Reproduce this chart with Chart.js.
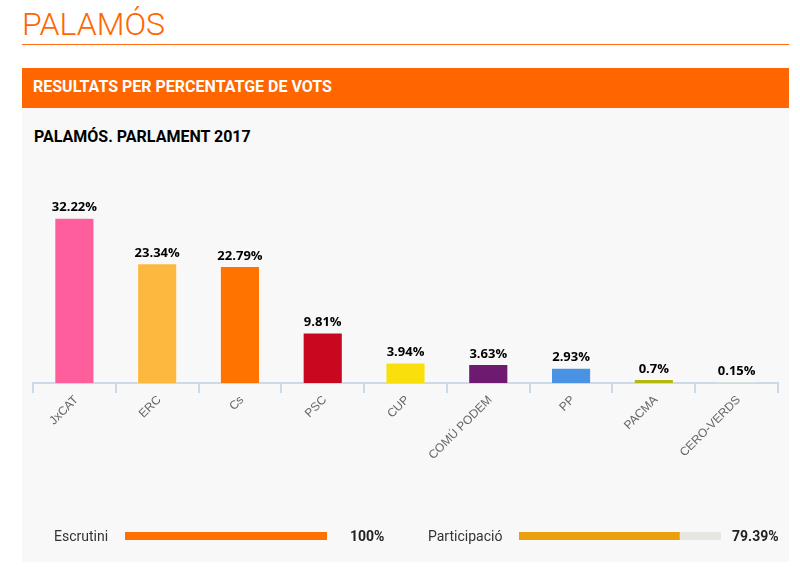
<!DOCTYPE html>
<html>
<head>
<meta charset="utf-8">
<title>PALAMÓS</title>
<script src="https://cdn.jsdelivr.net/npm/chart.js@4"></script>
<style>
  html, body { margin: 0; padding: 0; background: #fff; }
  body { width: 800px; height: 581px; position: relative; overflow: hidden; font-family: Roboto, sans-serif; }
  .abs { position: absolute; white-space: nowrap; }
  #town { left: 22px; top: 3px; font-size: 32px; font-weight: 300; color: #ff6600; line-height: 42px; }
  #rule { left: 22px; top: 43.5px; width: 767px; height: 1.5px; background: #ff6a13; }
  #band { left: 22px; top: 68px; width: 767px; height: 40px; background: #ff6600; }
  #bandText { left: 33px; top: 68px; line-height: 38px; font-size: 16px; font-weight: 700; color: #fff; }
  #panel { left: 22px; top: 108px; width: 767px; height: 454px; background: #f8f8f8; }
  #sub { left: 34px; top: 127px; line-height: 20px; font-size: 16px; font-weight: 700; color: #000; }
  #chart { left: 22px; top: 108px; }
  .lab { top: 526px; line-height: 20px; font-size: 14px; color: #333; }
  .val { top: 526px; line-height: 20px; font-size: 14px; font-weight: 700; color: #222; }
  .track { top: 532px; }
</style>
</head>
<body>
<div class="abs" id="town">PALAMÓS</div>
<div class="abs" id="rule"></div>
<div class="abs" id="band"></div>
<div class="abs" id="bandText">RESULTATS PER PERCENTATGE DE VOTS</div>
<div class="abs" id="panel"></div>
<div class="abs" id="sub">PALAMÓS. PARLAMENT 2017</div>
<canvas class="abs" id="chart" width="767" height="454"></canvas>

<div class="abs lab" style="left:54px">Escrutini</div>
<canvas class="abs track" id="bar1" width="202" height="8"></canvas>
<div class="abs val" style="left:350px">100%</div>

<div class="abs lab" style="left:428px">Participació</div>
<canvas class="abs track" id="bar2" width="202" height="8"></canvas>
<div class="abs val" style="left:732px">79.39%</div>

<script>
var parties = ['JxCAT', 'ERC', 'Cs', 'PSC', 'CUP', 'COMÚ PODEM', 'PP', 'PACMA', 'CERO-VERDS'];
var votes = [32.22, 23.34, 22.79, 9.81, 3.94, 3.63, 2.93, 0.7, 0.15];
var colors = ['#ff5e9c', '#fdb93f', '#ff7400', '#c8081f', '#f9e00c', '#6e1a70', '#4a92e3', '#b5b80f', '#d5dfe0'];
var escrutini = 100;
var participacio = 79.39;

// values above the bars
var valueLabels = {
  id: 'valueLabels',
  afterDatasetsDraw: function (chart) {
    var ctx = chart.ctx;
    ctx.save();
    ctx.font = 'bold 13px "Open Sans"';
    ctx.fillStyle = '#000';
    ctx.textAlign = 'center';
    ctx.textBaseline = 'bottom';
    chart.getDatasetMeta(0).data.forEach(function (bar, i) {
      ctx.fillText(votes[i] + '%', bar.x, bar.y - 4);
    });
    ctx.restore();
  }
};

new Chart(document.getElementById('chart'), {
  type: 'bar',
  data: {
    labels: parties,
    datasets: [{
      data: votes,
      backgroundColor: colors,
      borderColor: 'rgba(255,255,255,0.35)',
      borderWidth: 1,
      barThickness: 39.5
    }]
  },
  options: {
    responsive: false,
    animation: false,
    layout: { padding: { left: 11, right: 11, top: 70.2, bottom: 0 } },
    plugins: { legend: { display: false }, tooltip: { enabled: false } },
    scales: {
      y: { display: false, min: 0, max: 40 },
      x: {
        afterFit: function (scale) { scale.height = 179; },
        border: { color: '#ccd9e8', width: 2 },
        grid: { color: '#ccd9e8', lineWidth: 2, drawOnChartArea: false, tickLength: 10, offset: true },
        ticks: {
          color: '#666',
          font: { family: '"Liberation Sans"', size: 12 },
          minRotation: 45,
          maxRotation: 45,
          autoSkip: false,
          padding: 0,
          labelOffset: 2
        }
      }
    }
  },
  plugins: [valueLabels]
});

function progress(id, value, color, track) {
  var el = document.getElementById(id);
  el.style.background = track;
  new Chart(el, {
    type: 'bar',
    data: { labels: [id], datasets: [{ data: [value], backgroundColor: color, barPercentage: 1, categoryPercentage: 1 }] },
    options: {
      indexAxis: 'y',
      responsive: false,
      animation: false,
      plugins: { legend: { display: false }, tooltip: { enabled: false } },
      scales: { x: { display: false, min: 0, max: 100 }, y: { display: false } }
    }
  });
}
document.getElementById('bar1').style.left = '125px';
document.getElementById('bar2').style.left = '519px';
progress('bar1', escrutini, '#ff7000', '#e8e6e3');
progress('bar2', participacio, '#eb9f0c', '#e8e6e3');
</script>
</body>
</html>
